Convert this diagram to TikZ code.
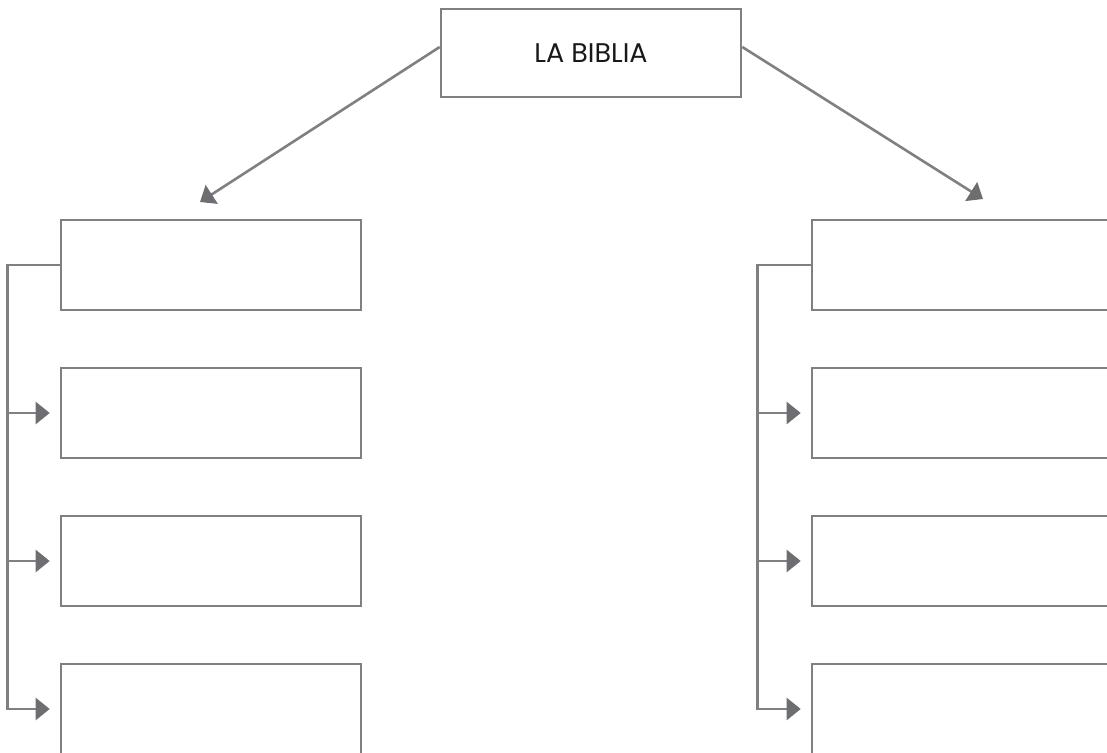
\documentclass[tikz,border=0pt]{standalone}
\usepackage{fontspec}
\setmainfont{Poppins}
\usetikzlibrary{arrows.meta,positioning}
\definecolor{boxgray}{HTML}{808083}
\definecolor{tipgray}{HTML}{6D6E71}

\begin{document}
\begin{tikzpicture}[x=1pt,y=-1pt,>={Triangle[length=14pt,width=22pt,color=tipgray]},node distance=55.4pt,
  box/.style={draw=boxgray,line width=2.6pt,minimum width=300pt,minimum height=90pt,inner sep=0pt},
  link/.style={draw=boxgray,line width=2.6pt}]

\useasboundingbox (0,0) rectangle (1107,752);

\node[box,minimum height=88pt] (bible) at (591,53) {\fontsize{27}{32}\selectfont\color{black!90} LA BIBLIA};

\node[box] (l1) at (211,265) {};
	\node[box] (l2) [below=of l1] {};
	\node[box] (l3) [below=of l2] {};
	\node[box] (l4) [below=of l3] {};

\node[box] (r1) at (962,265) {};
	\node[box] (r2) [below=of r1] {};
	\node[box] (r3) [below=of r2] {};
	\node[box] (r4) [below=of r3] {};

\coordinate (lt) at (200,202);
\coordinate (rt) at (983,199);

\path ([yshift=6pt]bible.west) edge[->,link] (lt)
      ([yshift=6pt]bible.east) edge[->,link] (rt);

\foreach \i in {2,3,4}{
	\draw[->,link,shorten >=10pt] (l1.west) -- ++(-52,0) |- (l\i.west);
	\draw[->,link,shorten >=10pt] (r1.west) -- ++(-53,0) |- (r\i.west);
}
\end{tikzpicture}
\end{document}
